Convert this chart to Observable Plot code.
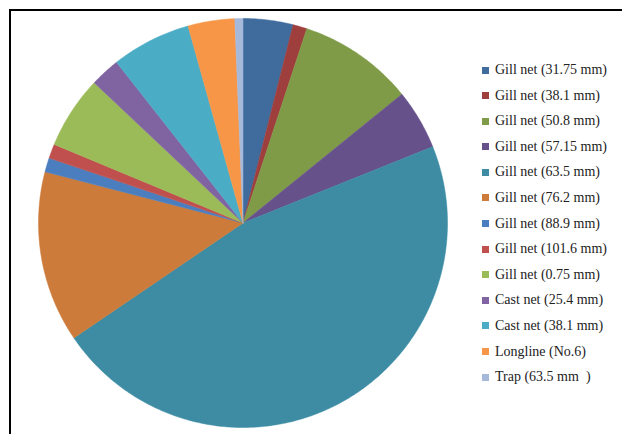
<!DOCTYPE html>
<html>
<head>
<meta charset="utf-8">
<script src="https://cdn.jsdelivr.net/npm/d3@7"></script>
<script src="https://cdn.jsdelivr.net/npm/@observablehq/plot@0.6"></script>
<style>
  html, body { margin: 0; padding: 0; background: #fff; }
  #wrap { position: relative; width: 622px; height: 434px; overflow: hidden; }
  #border { position: absolute; left: 9px; top: 9px; width: 640px; height: 460px;
            border-left: 2px solid #000; border-top: 2px solid #000; box-sizing: border-box; }
  #chart { position: absolute; left: 0; top: 0; }
  #legend { position: absolute; left: 482px; top: 62px; font-family: "Liberation Serif", "DejaVu Serif", serif;
            font-size: 14px; color: #222; }
  .row { height: 25.6px; display: flex; align-items: flex-start; line-height: 16px; white-space: pre; }
  .sw { width: 7px; height: 7px; margin-top: 4.5px; margin-right: 6px; flex: none; }
</style>
</head>
<body>
<div id="wrap">
  <div id="border"></div>
  <div id="chart"></div>
  <div id="legend"></div>
</div>
<script>
const categories = [
  "Gill net (31.75 mm)", "Gill net (38.1 mm)", "Gill net (50.8 mm)", "Gill net (57.15 mm)",
  "Gill net (63.5 mm)", "Gill net (76.2 mm)", "Gill net (88.9 mm)", "Gill net (101.6 mm)",
  "Gill net (0.75 mm)", "Cast net (25.4 mm)", "Cast net (38.1 mm)", "Longline (No.6)", "Trap (63.5 mm  )"
];
const values = [3.94, 1.11, 9.11, 4.75, 46.58, 13.53, 1.11, 1.14, 5.75, 2.36, 6.28, 3.69, 0.64];
const colors = [
  "#3F6B9D", "#9E3F3D", "#7F9B48", "#67518A", "#3D8CA4", "#CC7B3A",
  "#4A7EBF", "#C0504D", "#9BBB59", "#8064A2", "#4BACC6", "#F79646", "#A7B9DB"
];

// Build slice outlines (clockwise from 12 o'clock) from the values via d3.pie
const pie = d3.pie().sort(null).value(d => d.value).startAngle(0).endAngle(2 * Math.PI);
const arcs = pie(categories.map((c, i) => ({category: c, value: values[i]})));
const pts = [];
for (const a of arcs) {
  const n = Math.max(4, Math.ceil((a.endAngle - a.startAngle) / 0.01));
  pts.push({category: a.data.category, x: 0, y: 0});
  for (let k = 0; k <= n; k++) {
    const t = a.startAngle + (a.endAngle - a.startAngle) * k / n;
    pts.push({category: a.data.category, x: Math.sin(t), y: Math.cos(t)});
  }
  pts.push({category: a.data.category, x: 0, y: 0});
}

const chart = Plot.plot({
  width: 622,
  height: 434,
  marginLeft: 38,
  marginRight: 175,
  marginTop: 18,
  marginBottom: 7,
  x: {domain: [-1, 1], axis: null},
  y: {domain: [-1, 1], axis: null},
  color: {domain: categories, range: colors},
  style: {background: "transparent"},
  marks: [
    Plot.line(pts, {x: "x", y: "y", z: "category", fill: "category", stroke: "category", strokeWidth: 0.5, curve: "linear-closed"})
  ]
});
document.getElementById("chart").appendChild(chart);

const legend = document.getElementById("legend");
categories.forEach((c, i) => {
  const row = document.createElement("div");
  row.className = "row";
  const sw = document.createElement("span");
  sw.className = "sw";
  sw.style.background = colors[i];
  const lab = document.createElement("span");
  lab.textContent = c;
  row.appendChild(sw);
  row.appendChild(lab);
  legend.appendChild(row);
});
</script>
</body>
</html>
